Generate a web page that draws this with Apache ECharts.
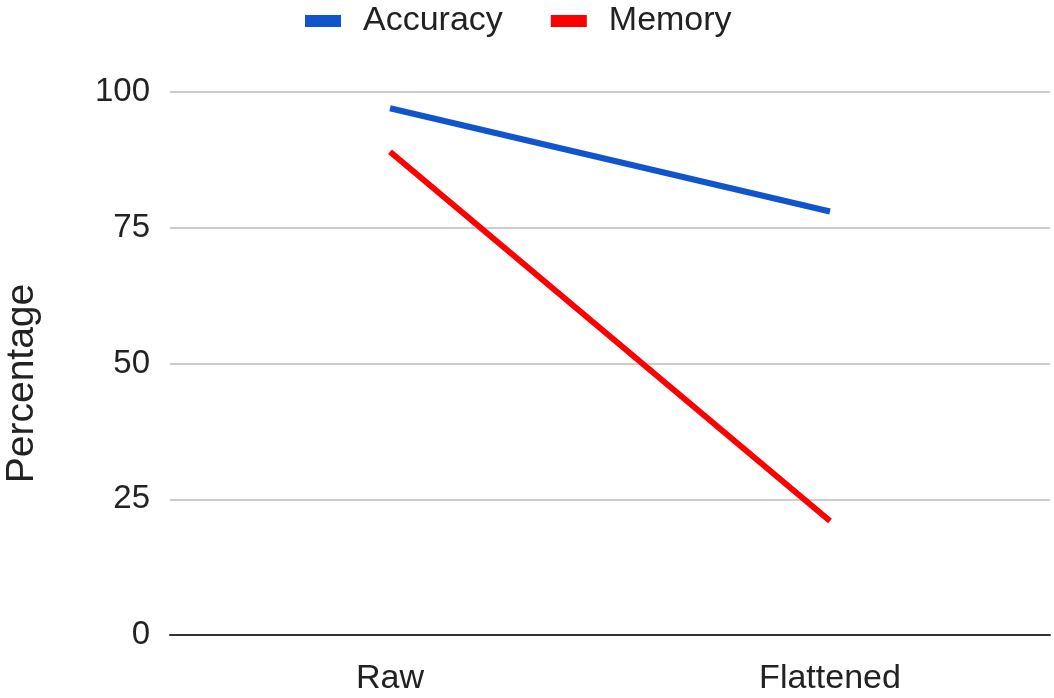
<!DOCTYPE html>
<html>
<head>
<meta charset="utf-8">
<script src="https://cdn.jsdelivr.net/npm/echarts@6/dist/echarts.min.js"></script>
<style>
  html, body { margin: 0; padding: 0; background: #fff; }
  #chart { width: 1054px; height: 698px; }
</style>
</head>
<body>
<div id="chart"></div>
<script>
// Input format comparison: accuracy vs memory share
const categories = ['Raw', 'Flattened'];
const accuracy = [97, 78];
const memory = [89, 21];
const yTicks = { min: 0, max: 100, interval: 25 };

const chart = echarts.init(document.getElementById('chart'), null, { renderer: 'canvas' });
const font = 'Liberation Sans, Arial, sans-serif';

chart.setOption({
  animation: false,
  backgroundColor: '#ffffff',
  textStyle: { fontFamily: font },
  legend: {
    top: 2,
    left: 305,
    padding: 0,
    itemWidth: 36,
    itemHeight: 12,
    itemGap: 48,
    icon: 'rect',
    textStyle: { fontSize: 34, lineHeight: 38, color: '#222', fontFamily: font, padding: [0, 0, 0, 17] },
    data: ['Accuracy', 'Memory']
  },
  grid: { left: 170, right: 4, top: 92, bottom: 63, containLabel: false, outerBoundsMode: 'none' },
  xAxis: {
    type: 'category',
    data: categories,
    boundaryGap: true,
    axisLine: { show: true, lineStyle: { color: '#333', width: 2 } },
    axisTick: { show: false },
    axisLabel: { fontSize: 34, color: '#222', margin: 27, fontFamily: font },
    splitLine: { show: false }
  },
  yAxis: {
    type: 'value',
    min: yTicks.min,
    max: yTicks.max,
    interval: yTicks.interval,
    name: 'Percentage',
    nameLocation: 'middle',
    nameGap: 128,
    nameTextStyle: { fontSize: 39, color: '#222', fontFamily: font, padding: [0, 40, 0, 0] },
    axisLine: { show: false },
    axisTick: { show: false },
    axisLabel: { fontSize: 33, color: '#222', margin: 20, fontFamily: font },
    splitLine: { show: true, lineStyle: { color: '#cccccc', width: 2 } }
  },
  series: [
    {
      name: 'Accuracy',
      type: 'line',
      data: accuracy,
      symbol: 'none',
      color: '#1155cc',
      lineStyle: { width: 6, color: '#1155cc' }
    },
    {
      name: 'Memory',
      type: 'line',
      data: memory,
      symbol: 'none',
      color: '#ff0000',
      lineStyle: { width: 6, color: '#ff0000' }
    }
  ]
});
</script>
</body>
</html>
